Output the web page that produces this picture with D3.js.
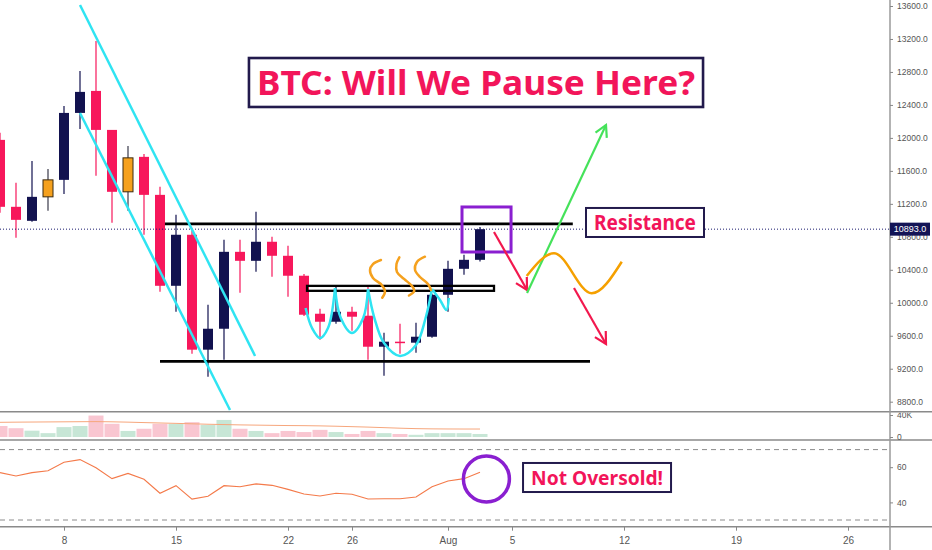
<!DOCTYPE html>
<html lang="en">
<head>
<meta charset="UTF-8">
<title>BTC: Will We Pause Here?</title>
<script src="https://d3js.org/d3.v7.min.js"></script>
<style>
  body { margin: 0; background: #fff; }
  svg { display: block; }
</style>
</head>
<body>
<div id="chart"></div>
<script>
// daily candles, Jul 4 - Aug 3
const dates = ["2020-07-04","2020-07-05","2020-07-06","2020-07-07","2020-07-08","2020-07-09","2020-07-10","2020-07-11",
  "2020-07-12","2020-07-13","2020-07-14","2020-07-15","2020-07-16","2020-07-17","2020-07-18","2020-07-19","2020-07-20",
  "2020-07-21","2020-07-22","2020-07-23","2020-07-24","2020-07-25","2020-07-26","2020-07-27","2020-07-28","2020-07-29",
  "2020-07-30","2020-07-31","2020-08-01","2020-08-02","2020-08-03"];
const open  = [11976,11164,10994,11285,11491,12303,12570,12097,11346,11770,11309,10206,10825,9431,9685,10618,10509,
  10740,10570,10328,9867,9770,9891,9843,9467,9528,9516,9588,10097,10412,10521];
const high  = [12061,11455,11721,11624,12388,12812,13176,12097,11903,11806,11406,11067,10873,9976,10764,10764,11103,
  10800,10691,10350,9928,10194,9952,10194,9637,9746,9758,10110,10509,10582,10920];
const low   = [11091,10788,10982,11115,11321,12109,11540,10970,11115,10825,10134,9891,9382,9103,9309,10122,10376,
  10315,10073,9840,9552,9746,9661,9309,9116,9382,9394,9575,9891,10340,10500];
const close = [11164,11006,11285,11491,12303,12558,12097,11346,11758,11309,10206,10825,9431,9685,10618,10509,10740,
  10570,10328,9855,9770,9891,9831,9467,9528,9516,9588,10097,10412,10521,10893];
const highlighted = ["2020-07-07", "2020-07-12"];
const volume   = [20,16,11.5,7,18,20,39,24,11,15,24,24,27,22,31,15,11,7,11,9,13,9,5.5,11,7,5.5,4,7,7,7,5.5]; // K
const volumeMA = [26.7,27,27.2,27.4,27.6,27.8,28,27.6,27,26.2,25.5,24.8,24,23.2,22.6,22,21.6,21.2,20.8,20.6,20.2,
  19.6,18.8,18,17,16,15.2,14.8,14.6,14.5,14.5];
const rsi = [56.9,55.0,56.9,58.0,62.8,64.3,59.7,53.5,56.5,53.1,45.2,49.5,41.9,43.5,49.5,48.9,50.5,49.7,47.4,44.8,
  43.6,45.2,44.6,41.9,42.1,42.1,43.1,48.9,52.2,53.5,57.1];
const lastPrice = 10893;

const priceTicks = [8800,9200,9600,10000,10400,10800,11200,11600,12000,12400,12800,13200,13600];
const volumeTicks = [0, 40];
const rsiTicks = [40, 60];
const rsiBands = [70, 30];
const dayTicks = [4, 11, 18, 22, 28, 32, 39, 46, 53];
const dayTickLabels = ["8", "15", "22", "26", "Aug", "5", "12", "19", "26"];

// drawings, in [day index, price] (or rsi) units
const channelLines = [[[5, 13612], [15.94, 9355]], [[5, 12302], [14.375, 8700]]];
const levelLines = [{from: 10.31, to: 35.8, price: 10956}, {from: 10, to: 36.875, price: 9290}];
const rangeBox = {from: 19.19, to: 30.875, top: 10205, bottom: 10145};
const waveSegments = [
  [[19.1, 9937], [19.5, 9694], [20, 9573], [20.5, 9694], [20.94, 10179]],
  [[20.94, 10179], [21.3, 9815], [22, 9633], [22.7, 9815], [23, 10167]],
  [[23, 10167], [23.4, 9815], [24, 9512], [25, 9355], [26, 9488], [26.6, 9815], [27, 10167]],
  [[27, 10167], [27.5, 10034], [27.9, 9912], [28.05, 10058]]
];
const squiggles = [
  [[23.81, 10519], [23.31, 10470], [23.125, 10398], [23.31, 10301], [23.86, 10216], [24.06, 10134], [23.89, 10062]],
  [[24.96, 10552], [24.78, 10470], [24.81, 10373], [25.25, 10289], [25.75, 10204], [25.89, 10143], [25.56, 10088]],
  [[26.56, 10559], [26.06, 10495], [25.94, 10398], [26.25, 10313], [26.75, 10228], [26.94, 10155]]
];
const focusBox = {from: 28.875, to: 31.94, top: 11162, bottom: 10616};
const downArrows = [[[30.875, 10859], [32.94, 10155]], [[35.875, 10179], [37.875, 9500]]];
const upArrow = [[32.94, 10119], [37.875, 12157]];
const pauseWave = [[32.92, 10325], [34.625, 10600], [36.98, 10115], [38.86, 10498]];
const titleBox = {text: "BTC: Will We Pause Here?", from: 15.56, to: 43.94, top: 12969, bottom: 12375};
const resistanceBox = {text: "Resistance", from: 36.625, to: 44, top: 11150, bottom: 10798};
const rsiBox = {text: "Not Oversold!", from: 32.69, to: 41.94, top: 62.4, bottom: 45.9};
const rsiCircle = {day: 30.4, value: 53.3};

const width = 932, height = 550, axisX = 890;
const mainBottom = 411.7, volBottom = 440, rsiBottom = 526.7;
const upColor = "#12124f", downColor = "#f7175b", textRed = "#f2155a", purple = "#8a1fd0",
  cyan = "#2fe4f2", orange = "#f5a11e", boxEdge = "#221a4c";

const start = new Date(dates[0]);
const dayIndex = d => d3.utcDay.count(start, new Date(d));

const svg = d3.select("#chart").append("svg")
  .attr("width", width).attr("height", height)
  .style("font-family", "'Liberation Sans', sans-serif");

const x = d3.scaleLinear().domain([0, 55.625]).range([0, axisX]);
const yPrice = d3.scaleLinear().domain([8800, 13600]).range([401.7, 6]);
const yVol = d3.scaleLinear().domain([0, 40]).range([437, 415]);
const yRsi = d3.scaleLinear().domain([30, 70]).range([520, 449.6]);

const defs = svg.append("defs");
function clip(id, y0, y1) {
  defs.append("clipPath").attr("id", id).append("rect")
    .attr("x", 0).attr("y", y0).attr("width", axisX).attr("height", y1 - y0);
  return svg.append("g").attr("clip-path", `url(#${id})`);
}
const mainG = clip("clipMain", 0, mainBottom);
const volG = clip("clipVol", mainBottom, volBottom);
const rsiG = clip("clipRsi", volBottom, rsiBottom);

const candles = dates.map((d, i) => ({
  day: dayIndex(d), o: open[i], h: high[i], l: low[i], c: close[i],
  flag: highlighted.includes(d), v: volume[i], ma: volumeMA[i], rsi: rsi[i]
}));
const candleColor = d => d.flag ? orange : (d.c >= d.o ? upColor : downColor);

// wicks + bodies
mainG.selectAll("line.wick").data(candles).join("line").attr("class", "wick")
  .attr("x1", d => x(d.day)).attr("x2", d => x(d.day))
  .attr("y1", d => yPrice(d.h)).attr("y2", d => yPrice(d.l))
  .attr("stroke", d => d.flag ? "#3a3a4a" : candleColor(d)).attr("stroke-width", 1.2);
mainG.selectAll("rect.body").data(candles).join("rect").attr("class", "body")
  .attr("x", d => x(d.day) - 5).attr("width", 10)
  .attr("y", d => yPrice(Math.max(d.o, d.c)))
  .attr("height", d => Math.max(1.5, Math.abs(yPrice(d.o) - yPrice(d.c))))
  .attr("fill", candleColor)
  .attr("stroke", d => d.flag ? "#3a2a10" : "none").attr("stroke-width", 1);

// last price dotted line
mainG.append("line")
  .attr("x1", 0).attr("x2", axisX).attr("y1", yPrice(lastPrice)).attr("y2", yPrice(lastPrice))
  .attr("stroke", "#1a1a6e").attr("stroke-width", 1).attr("stroke-dasharray", "1,2");

// drawings
const line = d3.line().x(d => x(d[0])).y(d => yPrice(d[1]));
levelLines.forEach(l => {
  mainG.append("line")
    .attr("x1", x(l.from)).attr("x2", x(l.to)).attr("y1", yPrice(l.price)).attr("y2", yPrice(l.price))
    .attr("stroke", "#000").attr("stroke-width", 2.8);
});
mainG.append("rect")
  .attr("x", x(rangeBox.from)).attr("y", yPrice(rangeBox.top))
  .attr("width", x(rangeBox.to) - x(rangeBox.from)).attr("height", yPrice(rangeBox.bottom) - yPrice(rangeBox.top))
  .attr("fill", "none").attr("stroke", "#000").attr("stroke-width", 2.3);
channelLines.forEach(l => {
  mainG.append("path").attr("d", line(l)).attr("fill", "none").attr("stroke", cyan).attr("stroke-width", 2.5);
});
waveSegments.forEach(s => {
  mainG.append("path").attr("d", line.curve(d3.curveCatmullRom.alpha(0.5))(s))
    .attr("fill", "none").attr("stroke", cyan).attr("stroke-width", 2.5);
});
squiggles.forEach(s => {
  mainG.append("path").attr("d", line.curve(d3.curveCatmullRom.alpha(0.5))(s))
    .attr("fill", "none").attr("stroke", orange).attr("stroke-width", 2.5).attr("stroke-linecap", "round");
});
line.curve(d3.curveLinear);
mainG.append("rect")
  .attr("x", x(focusBox.from)).attr("y", yPrice(focusBox.top))
  .attr("width", x(focusBox.to) - x(focusBox.from)).attr("height", yPrice(focusBox.bottom) - yPrice(focusBox.top))
  .attr("fill", "none").attr("stroke", purple).attr("stroke-width", 3);

function arrow(pts, color) {
  const [x0, y0] = [x(pts[0][0]), yPrice(pts[0][1])], [x1, y1] = [x(pts[1][0]), yPrice(pts[1][1])];
  const a = Math.atan2(y1 - y0, x1 - x0), len = 13, spread = 0.5;
  const head = [[x1 - len * Math.cos(a - spread), y1 - len * Math.sin(a - spread)], [x1, y1],
    [x1 - len * Math.cos(a + spread), y1 - len * Math.sin(a + spread)]];
  mainG.append("line").attr("x1", x0).attr("y1", y0).attr("x2", x1).attr("y2", y1)
    .attr("stroke", color).attr("stroke-width", 2.2);
  mainG.append("path").attr("d", d3.line()(head)).attr("fill", "none")
    .attr("stroke", color).attr("stroke-width", 2.2).attr("stroke-linejoin", "miter");
}
downArrows.forEach(a => arrow(a, "#f2184e"));
arrow(upArrow, "#45e25a");
mainG.append("path").attr("d", d3.line().x(d => x(d[0])).y(d => yPrice(d[1])).curve(d3.curveMonotoneX)(pauseWave))
  .attr("fill", "none").attr("stroke", "#f5a000").attr("stroke-width", 2.5);

function labelBox(g, b, yScale, fs, edge) {
  const x0 = x(b.from), x1 = x(b.to), y0 = yScale(b.top), y1 = yScale(b.bottom);
  g.append("rect").attr("x", x0).attr("y", y0).attr("width", x1 - x0).attr("height", y1 - y0)
    .attr("fill", "#fff").attr("stroke", boxEdge).attr("stroke-width", edge);
  g.append("text").attr("x", (x0 + x1) / 2).attr("y", (y0 + y1) / 2 + fs * 0.36)
    .attr("text-anchor", "middle").attr("fill", textRed)
    .style("font-family", "'Noto Sans', sans-serif").style("font-weight", "bold").style("font-size", fs + "px")
    .attr("textLength", x1 - x0 - 16).attr("lengthAdjust", "spacingAndGlyphs")
    .text(b.text);
}
labelBox(mainG, titleBox, yPrice, 34, 2.6);
labelBox(mainG, resistanceBox, yPrice, 21, 2);

// volume
volG.selectAll("rect.vol").data(candles).join("rect").attr("class", "vol")
  .attr("x", d => x(d.day) - 7.5).attr("width", 15)
  .attr("y", d => yVol(d.v)).attr("height", d => yVol(0) - yVol(d.v))
  .attr("fill", d => d.c >= d.o ? "#c7e6d6" : "#f9c6d1");
volG.append("path").datum(candles)
  .attr("d", d3.line().x(d => x(d.day)).y(d => yVol(d.ma)))
  .attr("fill", "none").attr("stroke", "#f6a67c").attr("stroke-width", 1);

// RSI
rsiBands.forEach(v => {
  rsiG.append("line").attr("x1", 0).attr("x2", axisX - 3).attr("y1", yRsi(v)).attr("y2", yRsi(v))
    .attr("stroke", "#8c8c8c").attr("stroke-width", 1).attr("stroke-dasharray", "5,4");
});
rsiG.append("path").datum(candles)
  .attr("d", d3.line().x(d => x(d.day)).y(d => yRsi(d.rsi)))
  .attr("fill", "none").attr("stroke", "#f47a4a").attr("stroke-width", 1.1);
rsiG.append("circle").attr("cx", x(rsiCircle.day)).attr("cy", yRsi(rsiCircle.value)).attr("r", 23)
  .attr("fill", "none").attr("stroke", purple).attr("stroke-width", 3.5);
labelBox(rsiG, rsiBox, yRsi, 20, 2);

// panel separators and price scale line
[mainBottom, volBottom, rsiBottom].forEach(y => {
  svg.append("line").attr("x1", 0).attr("x2", width).attr("y1", y).attr("y2", y)
    .attr("stroke", "#8a8a8a").attr("stroke-width", 1.5);
});
svg.append("line").attr("x1", axisX).attr("x2", axisX).attr("y1", 0).attr("y2", height)
  .attr("stroke", "#9a9a9a").attr("stroke-width", 1.5);

function styleAxis(g, fs) {
  g.select(".domain").remove();
  g.selectAll(".tick line").attr("stroke", "#888");
  g.selectAll(".tick text").attr("fill", "#555").style("font-size", fs + "px")
    .style("font-family", "'Liberation Sans', sans-serif");
}
const priceAxis = svg.append("g").attr("transform", `translate(${axisX},0)`)
  .call(d3.axisRight(yPrice).tickValues(priceTicks).tickSize(3).tickPadding(4).tickFormat(d3.format(".1f")));
styleAxis(priceAxis, 8.5);
const volAxis = svg.append("g").attr("transform", `translate(${axisX},0)`)
  .call(d3.axisRight(yVol).tickValues(volumeTicks).tickSize(3).tickPadding(4).tickFormat(d => d ? d + "K" : "0"));
styleAxis(volAxis, 8.5);
volAxis.attr("clip-path", "url(#clipVolAxis)");
defs.append("clipPath").attr("id", "clipVolAxis").append("rect")
  .attr("x", 0).attr("y", mainBottom + 1).attr("width", 50).attr("height", volBottom - mainBottom - 1);
const rsiAxis = svg.append("g").attr("transform", `translate(${axisX},0)`)
  .call(d3.axisRight(yRsi).tickValues(rsiTicks).tickSize(3).tickPadding(4));
styleAxis(rsiAxis, 8.5);
const timeAxis = svg.append("g").attr("transform", `translate(0,${rsiBottom})`)
  .call(d3.axisBottom(x).tickValues(dayTicks).tickSize(4).tickPadding(6).tickFormat((d, i) => dayTickLabels[i]));
styleAxis(timeAxis, 10);

// last price tag
const tagY = yPrice(lastPrice);
svg.append("rect").attr("x", axisX).attr("y", tagY - 6.5).attr("width", 40).attr("height", 13).attr("fill", "#131456");
svg.append("text").attr("x", axisX + 20).attr("y", tagY + 3.2).attr("text-anchor", "middle")
  .attr("fill", "#fff").style("font-size", "9px").text(d3.format(".1f")(lastPrice));
</script>
</body>
</html>
